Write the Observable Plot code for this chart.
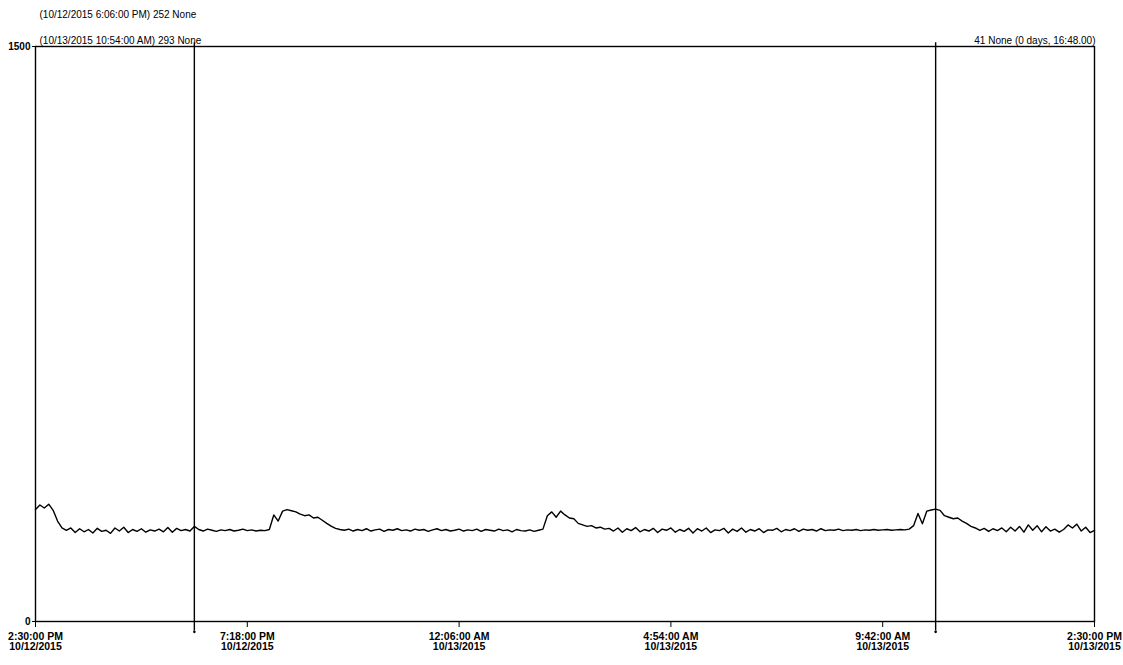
<!DOCTYPE html>
<html><head><meta charset="utf-8">
<script src="https://cdn.jsdelivr.net/npm/d3@7"></script>
<script src="https://cdn.jsdelivr.net/npm/@observablehq/plot@0.6"></script>
<style>body{margin:0;background:#fff} svg{display:block}</style>
</head><body><div id="chart"></div>
<script>
const startTime = Date.UTC(2015, 9, 12, 14, 30);
const stepMinutes = 6;
const values = [
  292,304,296,306,290,262,244,238,
  244,232,242,234,240,231,243,235,238,230,244,236,246,232,240,235,242,233,239,236,241,234,245,233,243,237,240,236,
  248,
  240,236,241,238,235,239,237,240,236,238,241,237,239,236,238,237,240,
  278,262,288,292,289,286,280,276,278,270,272,264,256,249,243,240,
  238,241,236,240,237,242,236,239,241,235,240,238,242,237,239,236,241,238,240,235,
  239,242,237,240,236,238,241,236,239,237,241,235,240,238,236,241,237,239,234,240,
  237,236,239,235,238,
  241,276,286,272,288,278,270,268,256,252,248,250,244,246,241,
  243,236,244,233,242,237,245,234,240,236,
  243,232,241,238,244,233,240,235,243,231,
  242,236,244,232,239,237,243,231,241,235,
  244,233,240,236,242,232,239,238,243,234,
  240,237,242,235,241,238,240,236,242,237,
  239,238,241,237,239,238,240,237,239,238,
  240,238,239,240,238,239,240,239,241,
  250,282,255,288,291,293,290,276,272,268,
  270,262,256,248,244,238,243,235,242,237,
  244,234,246,236,248,233,252,238,250,234,
  247,236,241,233,240,252,244,254,236,246,
  232,238
];
const tickTimes = [
  Date.UTC(2015,9,12,14,30), Date.UTC(2015,9,12,19,18), Date.UTC(2015,9,13,0,6),
  Date.UTC(2015,9,13,4,54), Date.UTC(2015,9,13,9,42), Date.UTC(2015,9,13,14,30)
];
const tickLabels = [
  "2:30:00 PM\n10/12/2015", "7:18:00 PM\n10/12/2015", "12:06:00 AM\n10/13/2015",
  "4:54:00 AM\n10/13/2015", "9:42:00 AM\n10/13/2015", "2:30:00 PM\n10/13/2015"
];
const cursorTimes = [Date.UTC(2015,9,12,18,6), Date.UTC(2015,9,13,10,54)];
const cursorLabels = ["(10/12/2015 6:06:00 PM) 252 None", "(10/13/2015 10:54:00 AM) 293 None"];
const deltaLabel = "41 None (0 days, 16:48.00)";
const yTicks = [0, 1500];

const data = values.map((v, i) => ({t: new Date(startTime + i * stepMinutes * 60000), v}));
const cursors = cursorTimes.map(t => ({t: new Date(t)}));
const font = '"Liberation Sans", Arial, sans-serif';

const chart = Plot.plot({
  width: 1123, height: 665,
  marginLeft: 35, marginRight: 29, marginTop: 46, marginBottom: 44,
  style: {fontFamily: font, fontSize: "10px", color: "#000", background: "#fff"},
  x: {type: "utc", domain: [new Date(tickTimes[0]), new Date(tickTimes[5])]},
  y: {domain: [0, 1500]},
  marks: [
    Plot.frame({stroke: "#000", strokeWidth: 1.4}),
    Plot.line(data, {x: "t", y: "v", stroke: "#000", strokeWidth: 1.4}),
    Plot.ruleX(cursors, {x: "t", y1: -25, y2: 1510, stroke: "#000", strokeWidth: 1.4}),
    Plot.dot(cursors, {x: "t", y: -27, r: 1.3, fill: "#000", stroke: null}),
    Plot.axisX({ticks: tickTimes.map(t => new Date(t)), tickFormat: d => tickLabels[tickTimes.indexOf(+d)],
      tickSize: 6, tickPadding: 5, fontSize: 10.5, fontWeight: "bold", lineHeight: 1.0, label: null, stroke: "#000"}),
    Plot.axisY({ticks: yTicks, tickFormat: d => String(d), tickSize: 3, tickPadding: 2, label: null, fontSize: 10, fontWeight: "bold"}),
    Plot.text([cursorLabels[0]], {text: d => d, frameAnchor: "top-left", dx: 4, dy: -36, textAnchor: "start", fontSize: 10}),
    Plot.text([cursorLabels[1]], {text: d => d, frameAnchor: "top-left", dx: 4, dy: -10, textAnchor: "start", fontSize: 10}),
    Plot.text([deltaLabel], {text: d => d, frameAnchor: "top-right", dx: 1, dy: -10, textAnchor: "end", fontSize: 10})
  ]
});
document.getElementById("chart").appendChild(chart);
</script>
</body></html>
